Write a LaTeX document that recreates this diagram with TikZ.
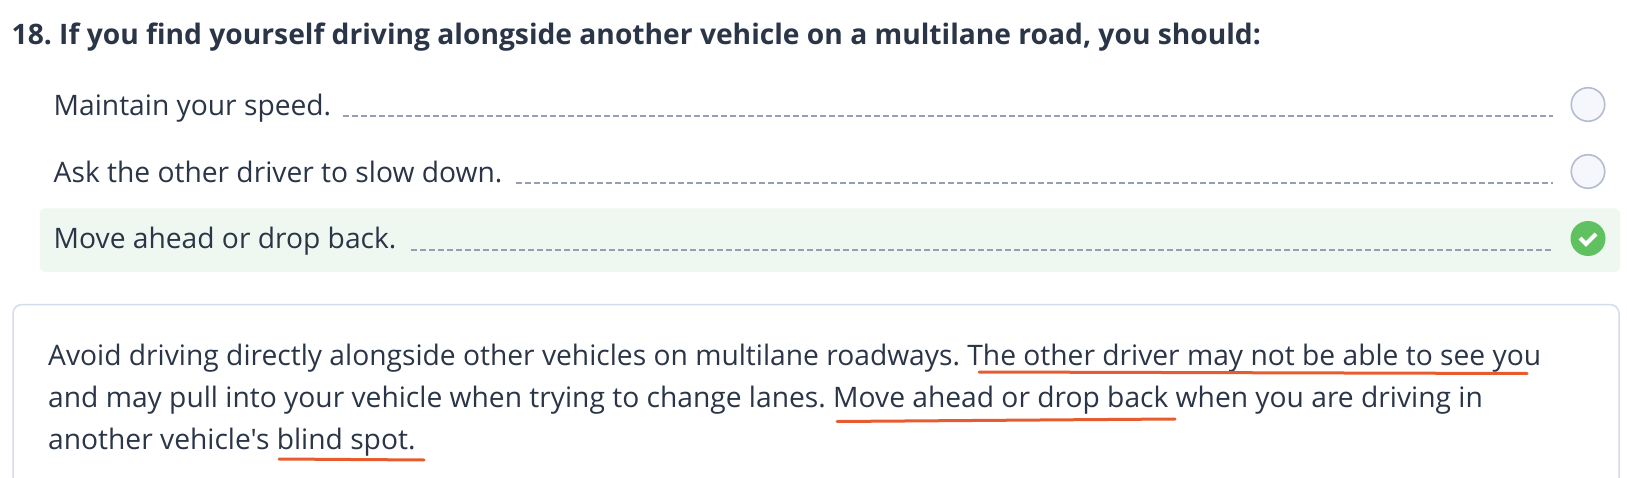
\documentclass[tikz,border=0pt]{standalone}
\usepackage{fontspec}
\setmainfont{Open Sans}[Ligatures=TeXOff]
\frenchspacing
\definecolor{ink}{HTML}{2A3547}
\definecolor{dashc}{HTML}{959EB2}
\definecolor{okbg}{HTML}{EEF8F0}
\definecolor{okc}{HTML}{60C160}
\definecolor{ringc}{HTML}{B4BDD0}
\definecolor{ringbg}{HTML}{F5F7FC}
\definecolor{panelc}{HTML}{D5DCEB}
\definecolor{mark}{HTML}{E65C2F}
\tikzset{
  txt/.style={anchor=base west,inner sep=0pt,text=ink,font=\fontsize{28.2}{33}\selectfont},
  ttl/.style={anchor=base west,inner sep=0pt,text=ink,font=\fontsize{28.2}{33}\selectfont\bfseries},
  leader/.style={draw=dashc,line width=1.7pt,dash pattern=on 6pt off 3pt},
  ring/.style={circle,draw=ringc,fill=ringbg,line width=1.6pt,minimum size=33.5pt,inner sep=0pt},
  okdot/.style={circle,fill=okc,minimum size=35pt,inner sep=0pt},
  uline/.style={draw=mark,line width=3pt,line cap=round},
}
\begin{document}
\begin{tikzpicture}[x=1pt,y=-1pt]
\useasboundingbox (0,0) rectangle (1627,478);
\fill[white] (0,0) rectangle (1627,478);
\node[ttl] (title) at (11.5,45) {18. If you find yourself driving alongside another vehicle on a multilane road, you should:};
\node[txt] (o1) at (53.5,116) {Maintain your speed.};
\node[txt] (o2) at (53.5,183) {Ask the other driver to slow down.};
\fill[okbg,rounded corners=5pt] (40,208.5) rectangle (1620,272);
\node[txt] (o3) at (53.5,249) {Move ahead or drop back.};
\draw[leader] (343,116) -- (1553,116);
\draw[leader] (516,183) -- (1553,183);
\draw[leader] (411,250) -- (1552,250);
\node[ring] (r1) at (1588,104.5) {};
\node[ring] (r2) at (1588,171.5) {};
\node[okdot] (r3) at (1588,238.5) {};
\draw[white,line width=4pt] (1580,238) -- (1586,244) -- (1596,234);
\draw[panelc,line width=1.5pt,rounded corners=9pt] (13,478.5) -- (13,304.5) -- (1619,304.5) -- (1619,478.5);
\node[txt] (l1) at (48,365) {Avoid driving directly alongside other vehicles on multilane roadways. The other driver may not be able to see you};
\node[txt] (l2) at (48,407) {and may pull into your vehicle when trying to change lanes. Move ahead or drop back when you are driving in};
\node[txt] (l3) at (48,449) {another vehicle's blind spot.};
\draw[uline] (979,372) -- (1527,373.5);
\draw[uline] (837,421.5) -- (1175,419);
\draw[uline] (279,459) -- (424,460);
\end{tikzpicture}
\end{document}
